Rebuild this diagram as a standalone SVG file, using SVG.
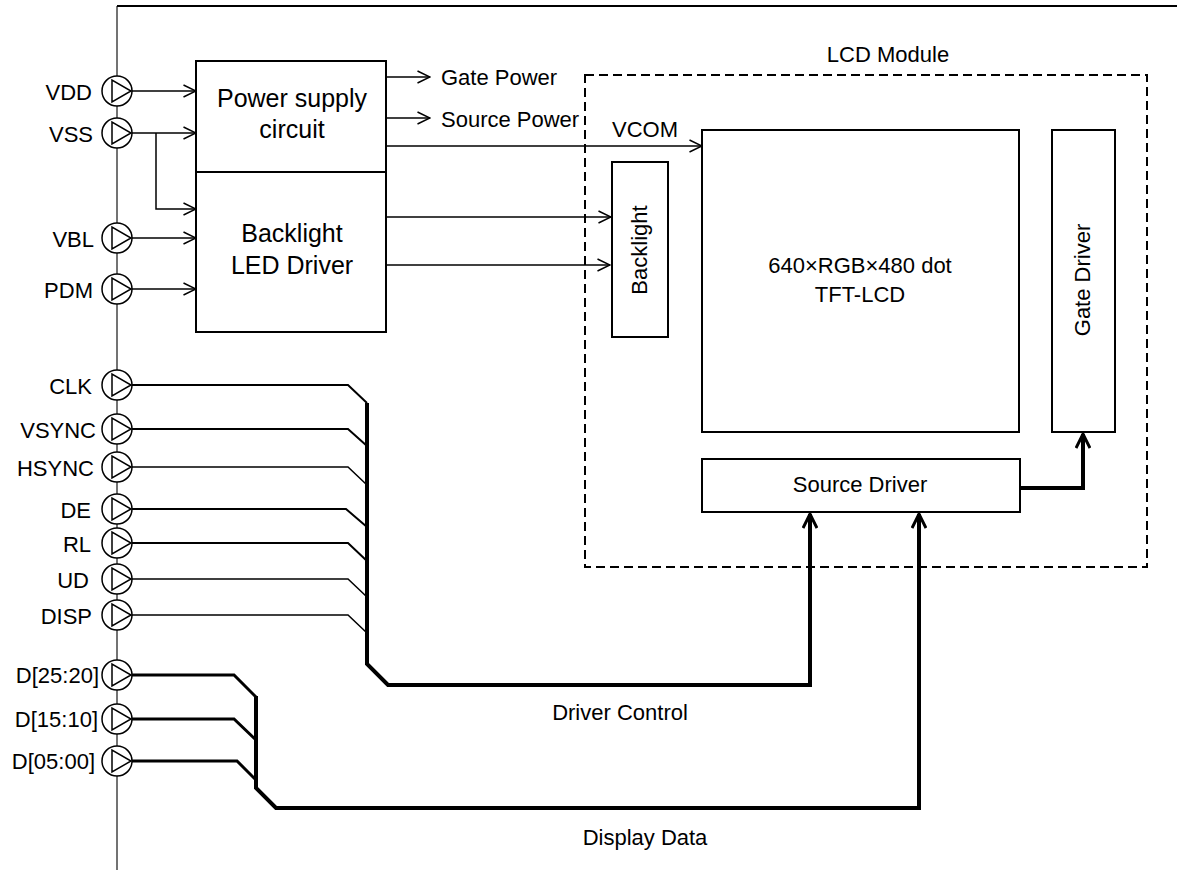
<svg xmlns="http://www.w3.org/2000/svg" width="1177" height="870" viewBox="0 0 1177 870">
<style>
text{font-family:"Liberation Sans",Arial,sans-serif;fill:#000;font-size:22px}
.big{font-size:25px}
.pl{text-anchor:end}
.mid{text-anchor:middle}
.box{fill:#fff;stroke:#000;stroke-width:2}
.pin circle,.pin polygon{fill:#fff;stroke:#000;stroke-width:1.5}
.w{fill:none;stroke:#000;stroke-width:1.5}
.w2{fill:none;stroke:#000;stroke-width:2}
.wt{fill:none;stroke:#000;stroke-width:3}
.bus{fill:none;stroke:#000;stroke-width:4;stroke-linejoin:miter}
</style>
<defs>
<marker id="a" markerUnits="userSpaceOnUse" viewBox="0 0 14 14" refX="13.5" refY="7" markerWidth="14" markerHeight="14" orient="auto"><path d="M1,1 L13.5,7 L1,13" fill="none" stroke="#000" stroke-width="1.5"/></marker>
<marker id="at" markerUnits="userSpaceOnUse" viewBox="0 0 16 16" refX="15" refY="8" markerWidth="16" markerHeight="16" orient="auto"><path d="M1,1 L15,8 L1,15" fill="none" stroke="#000" stroke-width="3"/></marker>
</defs>

<g id="frame">
<line x1="117" y1="6" x2="117" y2="870" stroke="#444" stroke-width="1.5"/>
<line x1="117" y1="6" x2="1177" y2="6" stroke="#000" stroke-width="2"/>
</g>

<g id="connectors">
<line class="w" x1="131" y1="91" x2="196" y2="91" marker-end="url(#a)"/>
<line class="w" x1="131" y1="133" x2="196" y2="133" marker-end="url(#a)"/>
<polyline class="w" points="156,133 156,209 196,209" marker-end="url(#a)"/>
<line class="w" x1="131" y1="238" x2="196" y2="238" marker-end="url(#a)"/>
<line class="w" x1="131" y1="289" x2="196" y2="289" marker-end="url(#a)"/>
<line class="w" x1="386" y1="77" x2="430" y2="77" marker-end="url(#a)"/>
<line class="w" x1="386" y1="118" x2="430" y2="118" marker-end="url(#a)"/>
<line class="w" x1="386" y1="146" x2="702" y2="146" marker-end="url(#a)"/>
<line class="w" x1="386" y1="217" x2="611" y2="217" marker-end="url(#a)"/>
<line class="w" x1="386" y1="265" x2="610" y2="265" marker-end="url(#a)"/>
<polyline class="w2" points="131,385 348,385 367,403"/>
<polyline class="w2" points="131,429 348,429 367,446"/>
<polyline class="w" points="131,467 348,467 367,485"/>
<polyline class="w2" points="131,509 346,509 367,527"/>
<polyline class="w2" points="131,543 348,543 367,561"/>
<polyline class="w" points="131,579 348,579 367,597"/>
<polyline class="w" points="131,615 348,615 367,633"/>
<polyline class="bus" points="367,403 367,664 388,685 810,685 810,514" marker-end="url(#at)"/>
<polyline class="wt" points="131,675 234,675 256,697"/>
<polyline class="wt" points="131,719 234,719 256,740"/>
<polyline class="wt" points="131,761 237,761 256,780"/>
<polyline class="bus" points="256,696 256,788 276,808 919,808 919,514" marker-end="url(#at)"/>
<polyline class="bus" points="1020,488 1083,488 1083,434" marker-end="url(#at)"/>
</g>

<g id="labels">
<text x="441" y="85">Gate Power</text>
<text x="441" y="127">Source Power</text>
<text x="612" y="137">VCOM</text>
<text class="mid" x="620" y="720">Driver Control</text>
<text class="mid" x="645" y="845">Display Data</text>
</g>

<g id="pins">
<g class="pin" id="pin-vdd"><circle cx="117" cy="91" r="15"/><polygon points="112,80 112,102 131,91"/><text class="pl" x="92" y="100">VDD</text></g>
<g class="pin" id="pin-vss"><circle cx="117" cy="133" r="15"/><polygon points="112,122 112,144 131,133"/><text class="pl" x="93" y="142">VSS</text></g>
<g class="pin" id="pin-vbl"><circle cx="117" cy="238" r="15"/><polygon points="112,227 112,249 131,238"/><text class="pl" x="94" y="247">VBL</text></g>
<g class="pin" id="pin-pdm"><circle cx="117" cy="289" r="15"/><polygon points="112,278 112,300 131,289"/><text class="pl" x="93" y="298">PDM</text></g>
<g class="pin" id="pin-clk"><circle cx="117" cy="385" r="15"/><polygon points="112,374 112,396 131,385"/><text class="pl" x="92" y="394">CLK</text></g>
<g class="pin" id="pin-vsync"><circle cx="117" cy="429" r="15"/><polygon points="112,418 112,440 131,429"/><text class="pl" x="96" y="438">VSYNC</text></g>
<g class="pin" id="pin-hsync"><circle cx="117" cy="467" r="15"/><polygon points="112,456 112,478 131,467"/><text class="pl" x="94" y="476">HSYNC</text></g>
<g class="pin" id="pin-de"><circle cx="117" cy="509" r="15"/><polygon points="112,498 112,520 131,509"/><text class="pl" x="91" y="518">DE</text></g>
<g class="pin" id="pin-rl"><circle cx="117" cy="543" r="15"/><polygon points="112,532 112,554 131,543"/><text class="pl" x="91" y="552">RL</text></g>
<g class="pin" id="pin-ud"><circle cx="117" cy="579" r="15"/><polygon points="112,568 112,590 131,579"/><text class="pl" x="89" y="588">UD</text></g>
<g class="pin" id="pin-disp"><circle cx="117" cy="615" r="15"/><polygon points="112,604 112,626 131,615"/><text class="pl" x="92" y="624">DISP</text></g>
<g class="pin" id="pin-d2520"><circle cx="117" cy="675" r="15"/><polygon points="112,664 112,686 131,675"/><text class="pl" x="99" y="683">D[25:20]</text></g>
<g class="pin" id="pin-d1510"><circle cx="117" cy="719" r="15"/><polygon points="112,708 112,730 131,719"/><text class="pl" x="98" y="727">D[15:10]</text></g>
<g class="pin" id="pin-d0500"><circle cx="117" cy="761" r="15"/><polygon points="112,750 112,772 131,761"/><text class="pl" x="95" y="769">D[05:00]</text></g>
</g>

<g id="power-supply">
<rect class="box" x="196" y="61" width="190" height="111"/>
<text class="big mid" x="292" y="107">Power supply</text>
<text class="big mid" x="292" y="138">circuit</text>
</g>
<g id="backlight-driver">
<rect class="box" x="196" y="172" width="190" height="160"/>
<text class="big mid" x="292" y="242">Backlight</text>
<text class="big mid" x="292" y="274">LED Driver</text>
</g>

<g id="lcd-module">
<rect x="585" y="75" width="562" height="492" fill="none" stroke="#000" stroke-width="2" stroke-dasharray="9 5"/>
<text class="mid" x="888" y="62">LCD Module</text>
</g>
<g id="backlight">
<rect class="box" x="612" y="162" width="56" height="175"/>
<text class="mid" transform="translate(647,250) rotate(-90)">Backlight</text>
</g>
<g id="tft-lcd">
<rect class="box" x="702" y="130" width="317" height="302"/>
<text class="mid" x="860" y="273">640×RGB×480 dot</text>
<text class="mid" x="860" y="302">TFT-LCD</text>
</g>
<g id="gate-driver">
<rect class="box" x="1052" y="130" width="63" height="302"/>
<text class="mid" transform="translate(1090,280) rotate(-90)">Gate Driver</text>
</g>
<g id="source-driver">
<rect class="box" x="702" y="459" width="318" height="53"/>
<text class="mid" x="860" y="492">Source Driver</text>
</g>
</svg>
